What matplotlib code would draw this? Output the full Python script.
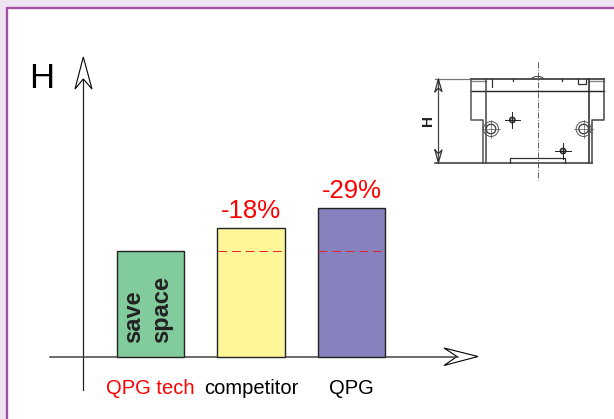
import matplotlib
matplotlib.use("Agg")
import matplotlib.pyplot as plt
from matplotlib.patches import Rectangle, Polygon, Circle, Arc

plt.rcParams["font.family"] = ["Liberation Sans", "DejaVu Sans"]

# bar heights, competitor and QPG relative to QPG tech = 100
categories = ["QPG tech", "competitor", "QPG"]
heights = [100, 122, 141]
bar_colors = ["#82CB9C", "#FFF599", "#8781BD"]
label_colors = ["#FF0000", "#000000", "#000000"]
percent_labels = ["", "-18%", "-29%"]

W, H = 614, 419
fig = plt.figure(figsize=(W / 100, H / 100), dpi=100, facecolor="#F0E4F2")

# background axes in pixel coordinates, for frame, axis arrows and drawing
bg = fig.add_axes([0, 0, 1, 1], zorder=0)
bg.set_xlim(0, W)
bg.set_ylim(H, 0)
bg.axis("off")
bg.add_patch(Rectangle((7, 8), W, H, fc="white", ec="#A24FA6", lw=1.7))

# axis lines with open arrow heads
bg.plot([83.3, 83.3], [80, 390], color="#222222", lw=0.9)
bg.plot([50, 458], [356.5, 356.5], color="#444444", lw=1.1)
bg.add_patch(Polygon([(83.3, 57), (75, 89), (83.3, 79), (92, 89)], fc="white", ec="black", lw=0.8))
bg.add_patch(Polygon([(478, 356.5), (444, 348), (457, 356.5), (444, 365.5)], fc="white", ec="black", lw=0.8))
bg.text(41.5, 88, "H", fontsize=25, ha="center", va="baseline", color="black")


def zx(v):
    return 410 + v / 3


def zy(v):
    return 60 + v / 3


def seg(points, lw=1.1, color="#333333", **kw):
    bg.plot([zx(p[0]) for p in points], [zy(p[1]) for p in points], color=color, lw=lw, **kw)


seg([(75, 57), (183, 57)], 0.9, "#777777")
seg([(183, 57), (583, 57)], 1.3, "#444444")
seg([(183, 64), (228, 64)], 1.0, "#888888")
seg([(538, 64), (583, 64)], 1.0, "#888888")
seg([(183, 94), (583, 94)], 1.0, "#222222")
seg([(183, 57), (183, 181), (220, 181), (220, 308)], 1.1, "#555555")
seg([(583, 57), (583, 181), (547, 181), (547, 308)], 1.1, "#444444")
seg([(228, 57), (228, 308)], 1.1, "#444444")
seg([(538, 57), (538, 308)], 1.1, "#222222")
seg([(75, 308), (547, 308)], 1.2, "#444444")
seg([(300, 308), (300, 295), (465, 295), (465, 308)], 0.9)
seg([(503, 57), (503, 72), (527, 72), (527, 57)], 0.9)
seg([(247, 57), (247, 80)], 0.9)
seg([(310, 57), (310, 64)], 0.9)
seg([(455, 57), (455, 64)], 0.9)
seg([(383, 5), (383, 360)], 0.6, "#444444", linestyle=(0, (7, 2, 1, 2)))
seg([(85, 57), (85, 308)], 0.9, "#444444")
seg([(75, 95), (85, 57), (96, 95), (85, 84), (75, 95)], 0.9)
seg([(75, 270), (85, 308), (96, 270), (85, 281), (75, 270)], 0.9)
bg.add_patch(Arc((zx(383), zy(57)), 12, 5, theta1=180, theta2=360, ec="#333333", lw=0.7))
bg.text(zx(55), zy(182), "H", fontsize=11, rotation=90, ha="center", va="center", color="#222222", fontweight="bold")

for cx, cy in [(243, 207), (521, 207)]:
    bg.add_patch(Circle((zx(cx), zy(cy)), 4.8, fc="white", ec="#333333", lw=0.9, zorder=3))
    bg.add_patch(Circle((zx(cx), zy(cy)), 7.5, fc="none", ec="#555555", lw=0.7, zorder=3))
    seg([(cx - 28, cy), (cx + 28, cy)], 0.5, "#555555", zorder=4)
    seg([(cx, cy - 28), (cx, cy + 28)], 0.5, "#555555", zorder=4)
for cx, cy in [(307, 180), (459, 273)]:
    bg.add_patch(Circle((zx(cx), zy(cy)), 2.8, fc="#999999", ec="#222222", lw=0.9, zorder=3))
    seg([(cx - 23, cy), (cx + 23, cy)], 0.7, "#222222", zorder=4)
    seg([(cx, cy - 23), (cx, cy + 23)], 0.7, "#222222", zorder=4)

# data axes: x = category index, y = height, scaled to the picture
ax = fig.add_axes([0, 0, 1, 1], zorder=1)
ax.patch.set_visible(False)
ax.axis("off")
ax.set_xlim(-150.5 / 100.5, (W - 150.5) / 100.5)
ax.set_ylim(-(H - 356.5) / 1.05, 356.5 / 1.05)

x = list(range(len(categories)))
ax.bar(x, heights, width=0.667, color=bar_colors, edgecolor="#222222", linewidth=1.0)

# reference level of QPG tech across the other bars
for i in x[1:]:
    ax.plot([i - 0.333, i + 0.333], [heights[0], heights[0]], color="#E8222A", lw=0.7, linestyle=(0, (9, 5)))

for i in x:
    ax.annotate(categories[i], (i, 0), xytext=(0, -22), textcoords="offset pixels", ha="center", va="top",
                fontsize=14.5, color=label_colors[i])
    if percent_labels[i]:
        ax.annotate(percent_labels[i], (i, heights[i]), xytext=(0, 5), textcoords="offset pixels", ha="center",
                    va="bottom", fontsize=18.5, color="#FF0000")

ax.annotate("save", (-0.17, 0), xytext=(0, 14), textcoords="offset pixels", rotation=90, ha="center", va="bottom",
            fontsize=17, fontweight="bold", color="#222222")
ax.annotate("space", (0.115, 0), xytext=(0, 14), textcoords="offset pixels", rotation=90, ha="center", va="bottom",
            fontsize=17, fontweight="bold", color="#222222")

fig.savefig("out.png", dpi=100, facecolor=fig.get_facecolor())
plt.close(fig)
